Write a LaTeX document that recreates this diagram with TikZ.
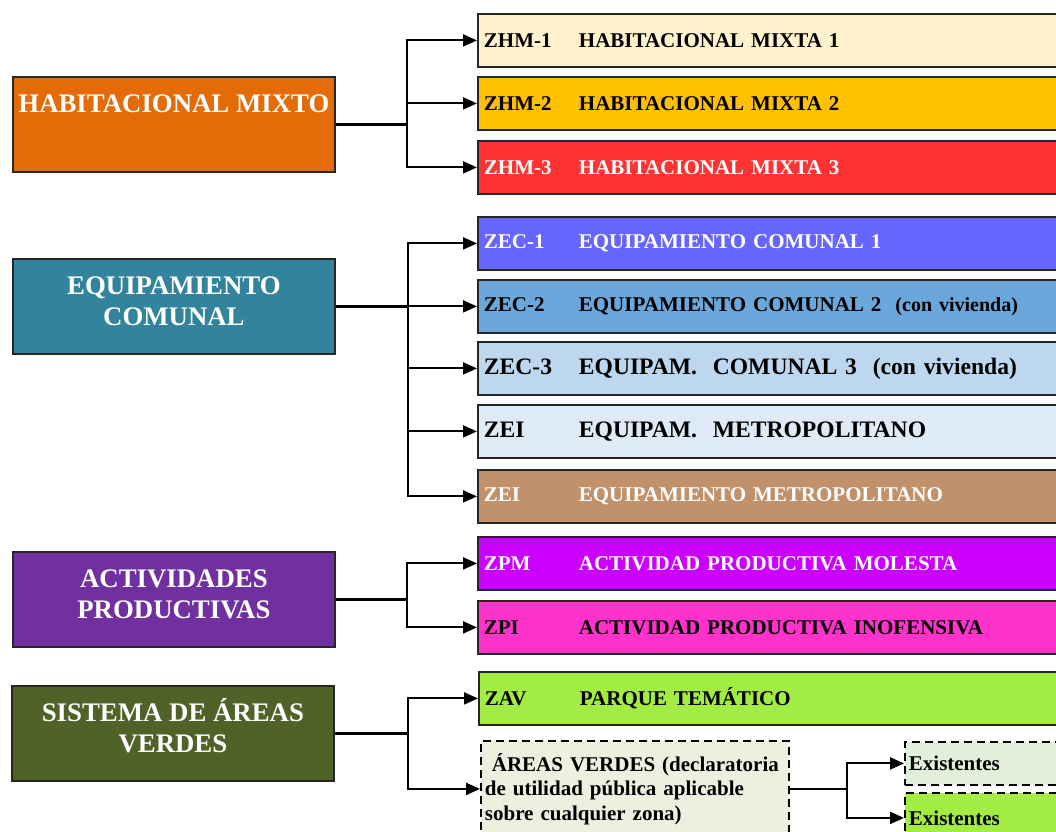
\documentclass[tikz,border=0pt]{standalone}
\usepackage{fontspec}
\setmainfont{Liberation Serif}
\usetikzlibrary{arrows.meta,positioning}

\definecolor{hmixto}{HTML}{E36C09}
\definecolor{ecomunal}{HTML}{31849B}
\definecolor{aprod}{HTML}{7030A0}
\definecolor{sverde}{HTML}{4F6228}
\definecolor{zhmuno}{HTML}{FFF2CC}
\definecolor{zhmdos}{HTML}{FFC000}
\definecolor{zhmtres}{HTML}{FF3333}
\definecolor{zecuno}{HTML}{6666FF}
\definecolor{zecdos}{HTML}{6CA7DB}
\definecolor{zectres}{HTML}{BDD7EE}
\definecolor{zeiclaro}{HTML}{DEEAF6}
\definecolor{zeicafe}{HTML}{C0916B}
\definecolor{zpmcol}{HTML}{CC00FF}
\definecolor{zpicol}{HTML}{FF33CC}
\definecolor{lima}{HTML}{A2EC44}
\definecolor{avclaro}{HTML}{EBF1DE}
\definecolor{exclaro}{HTML}{E2EFDA}

\newcommand{\zcod}[1]{\makebox[95pt][l]{#1}}
% titulo de grupo, un poco por encima del centro
\newcommand{\gtitulo}[1]{\raisebox{3pt}[\height][\depth]{\begin{tabular}{@{}c@{}}#1\end{tabular}}}

\tikzset{
  grupo/.style={draw=black!85,line width=1.8pt,anchor=north west,minimum width=322pt,
    minimum height=95pt,inner sep=0pt,align=center,text=white,
    font=\fontsize{26.8}{31}\selectfont\bfseries},
  zona/.style={draw=black!85,line width=1.8pt,anchor=north west,minimum height=53pt,
    inner xsep=6pt,inner ysep=0pt,text width=580pt,align=left,
    font=\fontsize{21}{25}\selectfont\bfseries},
  zonagrande/.style={zona,font=\fontsize{23.6}{27}\selectfont\bfseries},
  punteado/.style={draw=black,line width=1.8pt,dash pattern=on 8pt off 5pt,anchor=north west,
    inner xsep=4pt,inner ysep=0pt,align=left,font=\fontsize{21}{24.5}\selectfont\bfseries},
  tronco/.style={line width=2.8pt},
  rama/.style={line width=2pt,line cap=rect},
}

\begin{document}
\begin{tikzpicture}[x=1pt,y=-1pt,>={Triangle[length=14pt,width=12pt]}]
\useasboundingbox (0,0) rectangle (1056,831);
\clip (0,0) rectangle (1056,831);

% --- habitacional mixto ---
\node[grupo,fill=hmixto] (hm) at (12,76) {\gtitulo{HABITACIONAL MIXTO\\ \mbox{}}};
\node[zona,fill=zhmuno] (zhm1) at (477,13) {\zcod{ZHM-1}HABITACIONAL MIXTA 1};
\node[zona,fill=zhmdos] (zhm2) at (477,76) {\zcod{ZHM-2}HABITACIONAL MIXTA 2};
\node[zona,fill=zhmtres,text=white] (zhm3) at (477,140) {\zcod{ZHM-3}HABITACIONAL MIXTA 3};
\coordinate (jhm) at ([xshift=71pt]hm.east);
\draw[tronco] (hm.east) -- (jhm);
\draw[rama] (jhm |- zhm1.west) -- (jhm |- zhm3.west);
\foreach \z in {zhm1,zhm2,zhm3}
  \draw[rama,->] (jhm |- \z.west) -- (\z.west);

% --- equipamiento comunal ---
\node[grupo,fill=ecomunal] (ec) at (12,258) {\gtitulo{EQUIPAMIENTO\\COMUNAL}};
\node[zona,fill=zecuno,text=white] (zec1) at (477,216) {\zcod{ZEC-1}EQUIPAMIENTO COMUNAL 1};
\node[zona,fill=zecdos] (zec2) at (477,279)
  {\zcod{ZEC-2}EQUIPAMIENTO COMUNAL 2\ \ {\fontsize{20}{24}\selectfont(con vivienda)}};
\node[zonagrande,fill=zectres] (zec3) at (477,341)
  {\zcod{ZEC-3}EQUIPAM.\ \ COMUNAL 3\ \ (con vivienda)};
\node[zonagrande,fill=zeiclaro] (zei1) at (477,404)
  {\zcod{ZEI}EQUIPAM.\ \ METROPOLITANO};
\node[zona,fill=zeicafe,text=white] (zei2) at (477,469) {\zcod{ZEI}EQUIPAMIENTO METROPOLITANO};
\coordinate (jec) at ([xshift=72pt]ec.east);
\draw[tronco] (ec.east) -- (jec);
\draw[rama] (jec |- zec1.west) -- (jec |- zei2.west);
\foreach \z in {zec1,zec2,zec3,zei1,zei2}
  \draw[rama,->] (jec |- \z.west) -- (\z.west);

% --- actividades productivas ---
\node[grupo,fill=aprod] (ap) at (12,551) {\gtitulo{ACTIVIDADES\\PRODUCTIVAS}};
\node[zona,fill=zpmcol,text=white] (zpm) at (477,536) {\zcod{ZPM}ACTIVIDAD PRODUCTIVA MOLESTA};
\node[zona,fill=zpicol] (zpi) at (477,600) {\zcod{ZPI}ACTIVIDAD PRODUCTIVA INOFENSIVA};
\coordinate (jap) at ([xshift=71pt]ap.east);
\draw[tronco] (ap.east) -- (jap);
\draw[rama] (jap |- zpm.west) -- (jap |- zpi.west);
\foreach \z in {zpm,zpi}
  \draw[rama,->] (jap |- \z.west) -- (\z.west);

% --- sistema de areas verdes ---
\node[grupo,fill=sverde] (sav) at (11,685) {\gtitulo{SISTEMA DE ÁREAS\\VERDES}};
\node[zona,fill=lima] (zav) at (478,671) {\zcod{ZAV}PARQUE TEMÁTICO};
\node[punteado,fill=avclaro,text width=300pt,minimum height=96pt] (av) at (480,740)
  {\ ÁREAS VERDES (declaratoria\\de utilidad pública aplicable\\sobre cualquier zona)};
\coordinate (jsav) at ([xshift=73pt]sav.east);
\draw[tronco] (sav.east) -- (jsav);
\draw[rama] (jsav |- zav.west) -- (jsav |- av.west);
\foreach \z in {zav,av}
  \draw[rama,->] (jsav |- \z.west) -- (\z.west);

% --- existentes ---
\node[punteado,fill=exclaro,text width=160pt,minimum height=43pt] (ex1) at (904,741) {Existentes};
\node[punteado,fill=lima,text width=160pt,minimum height=50pt] (ex2) at (904,792) {Existentes};
\coordinate (jav) at ([xshift=57pt]av.east);
\draw[rama] (av.east) -- (jav);
\draw[rama] (jav |- ex1.west) -- (jav |- ex2.west);
\foreach \z in {ex1,ex2}
  \draw[rama,->] (jav |- \z.west) -- (\z.west);

\end{tikzpicture}
\end{document}
